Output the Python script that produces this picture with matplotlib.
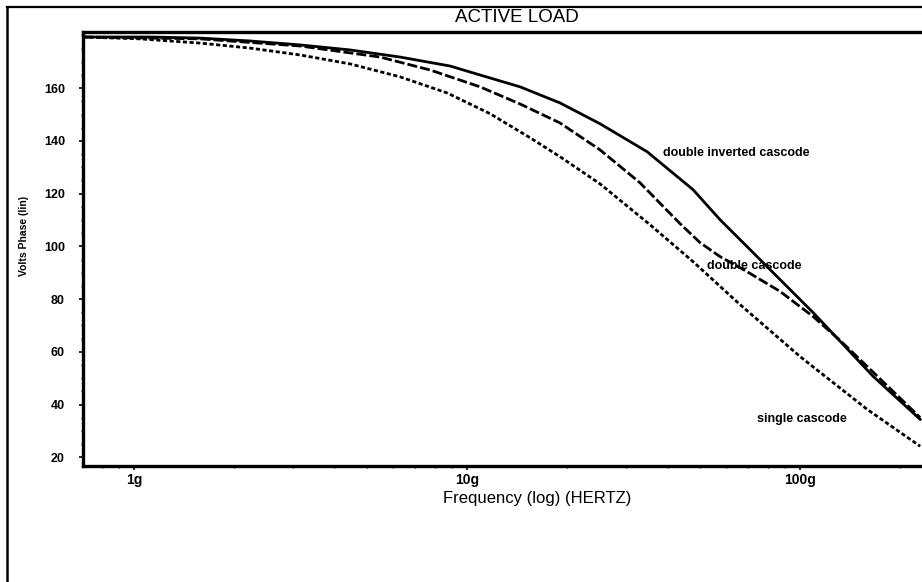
import numpy as np
import matplotlib.pyplot as plt
from matplotlib.lines import Line2D
from matplotlib.ticker import FixedLocator, MultipleLocator, NullFormatter

plt.rcParams['font.family'] = ['Liberation Sans', 'DejaVu Sans']

# frequency in "g" units, phase in degrees
freq_dic = [0.703, 1.117, 1.578, 2.230, 3.151, 4.453, 6.292, 8.890, 10.94, 14.43, 19.02,
            25.08, 34.72, 47.72, 57.52, 69.32, 87.09, 109.4, 136.5, 165.7, 229.3]
phase_dic = [179.4, 179.4, 179.0, 177.9, 176.4, 174.5, 171.8, 168.4, 165.0, 160.5, 154.4,
             146.5, 135.9, 121.5, 110.1, 99.9, 87.4, 74.9, 62.0, 50.7, 34.4]

freq_dc = [0.703, 1.578, 3.151, 5.480, 7.743, 10.94, 14.43, 19.02, 25.08, 33.07, 43.62,
           50.10, 57.52, 69.32, 87.09, 109.4, 131.9, 158.9, 229.3]
phase_dc = [179.4, 178.7, 176.0, 171.8, 166.9, 160.5, 154.0, 146.8, 136.6, 124.1, 108.6,
            101.4, 96.1, 90.4, 82.9, 73.4, 64.3, 54.5, 35.1]

freq_sc = [0.703, 1.042, 1.578, 2.230, 3.151, 4.453, 6.292, 8.709, 11.73, 15.46, 19.02,
           25.08, 35.44, 47.72, 66.05, 100.0, 158.9, 229.3]
phase_sc = [179.4, 178.7, 177.1, 175.2, 172.6, 169.2, 164.3, 158.2, 150.3, 141.2, 134.0,
            123.7, 108.2, 94.2, 77.9, 58.2, 38.2, 24.2]

labels = ['double inverted cascode', 'double cascode', 'single cascode']
label_pos = [(38.8, 135.5), (52.6, 92.7), (74.3, 34.4)]
xticks = [1, 10, 100]
xticklabels = ['1g', '10g', '100g']
yticks = [20, 40, 60, 80, 100, 120, 140, 160]

W, H = 922, 582
fig = plt.figure(figsize=(W / 100, H / 100), dpi=100)

def fx(px):
    return px / W

def fy(py):
    return 1 - py / H

ax = fig.add_axes([fx(83), fy(466), fx(922 - 83), (466 - 32) / H])

lw = 2.0
ax.plot(freq_dic, phase_dic, color='black', lw=lw, ls='-')
ax.plot(freq_dc, phase_dc, color='black', lw=lw, ls=(0, (3.6, 1.1)))
ax.plot(freq_sc, phase_sc, color='black', lw=lw, ls=(0, (1.5, 0.9)))

ax.set_xscale('log')
ax.set_xlim(0.703, 232.3)
ax.set_ylim(16.7, 181.3)

ax.xaxis.set_major_locator(FixedLocator(xticks))
ax.set_xticklabels(xticklabels)
ax.xaxis.set_minor_formatter(NullFormatter())
ax.set_yticks(yticks)
ax.yaxis.set_minor_locator(MultipleLocator(5))

ax.tick_params(axis='y', which='major', direction='out', length=3, width=1.2,
               labelsize=9, pad=10)
ax.tick_params(axis='x', which='major', direction='out', length=3, width=1.2,
               labelsize=10, pad=2)
ax.tick_params(axis='both', which='minor', direction='out', length=1.5, width=1.0)
for t in ax.get_xticklabels() + ax.get_yticklabels():
    t.set_fontweight('bold')

for side in ['left', 'bottom', 'top']:
    ax.spines[side].set_linewidth(2.4)
ax.spines['right'].set_visible(False)

# curve labels
for lab, (lx, ly) in zip(labels, label_pos):
    ax.text(lx, ly, lab, fontsize=9, fontweight='bold', va='center', ha='left')

# title bar and outer frame
fig.text(fx(517), fy(18), 'ACTIVE LOAD', fontsize=13.5, ha='center', va='center')
fig.add_artist(Line2D([fx(7), 1], [fy(7), fy(7)], color='black', lw=1.6))
fig.add_artist(Line2D([fx(7), fx(7)], [fy(7), 0], color='black', lw=1.8))

fig.text(fx(537), fy(499), 'Frequency (log) (HERTZ)', fontsize=12, ha='center', va='center')
fig.text(fx(24), fy(236), 'Volts Phase (lin)', fontsize=7.5, fontweight='bold',
         rotation=90, ha='center', va='center')

fig.savefig('out.png', dpi=100)
